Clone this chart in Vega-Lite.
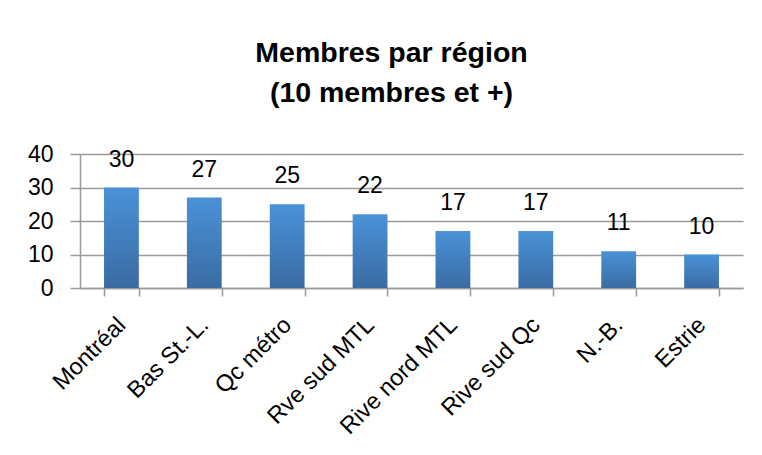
{
  "$schema": "https://vega.github.io/schema/vega-lite/v6.json",
  "width": 663,
  "height": 134,
  "autosize": "none",
  "padding": {"left": 80, "top": 154, "right": 19, "bottom": 167},
  "background": "white",
  "title": {
    "text": ["Membres par région", "(10 membres et +)"],
    "font": "Liberation Sans",
    "fontSize": 28.5,
    "fontWeight": "bold",
    "color": "#000000",
    "lineHeight": 40,
    "anchor": "middle",
    "dx": -20,
    "offset": 36
  },
  "data": {
    "values": [
      {"region": "Montréal", "membres": 30},
      {"region": "Bas St.-L.", "membres": 27},
      {"region": "Qc métro", "membres": 25},
      {"region": "Rve sud MTL", "membres": 22},
      {"region": "Rive nord MTL", "membres": 17},
      {"region": "Rive sud Qc", "membres": 17},
      {"region": "N.-B.", "membres": 11},
      {"region": "Estrie", "membres": 10}
    ]
  },
  "encoding": {
    "x": {
      "field": "region",
      "type": "nominal",
      "sort": null,
      "scale": {"paddingInner": 0.58, "paddingOuter": 0.29},
      "axis": {
        "title": null,
        "labelAngle": -45,
        "labelAlign": "right",
        "labelBaseline": "middle",
        "labelFont": "Liberation Sans",
        "labelFontSize": 23.5,
        "labelColor": "#000000",
        "labelPadding": 25,
        "tickBand": "extent",
        "tickColor": "#9a9a9a",
        "tickWidth": 1.5,
        "tickSize": 8,
        "domainColor": "#9a9a9a",
        "domainWidth": 1.5,
        "grid": false
      }
    },
    "y": {
      "field": "membres",
      "type": "quantitative",
      "scale": {"domain": [0, 40]},
      "axis": {
        "title": null,
        "values": [0, 10, 20, 30, 40],
        "labelFont": "Liberation Sans",
        "labelFontSize": 23,
        "labelColor": "#000000",
        "labelPadding": 17,
        "tickSize": 10,
        "tickColor": "#9a9a9a",
        "tickWidth": 1.5,
        "domainColor": "#9a9a9a",
        "domainWidth": 1.5,
        "gridColor": "#9a9a9a",
        "gridWidth": 1.5
      }
    }
  },
  "layer": [
    {
      "mark": {
        "type": "bar",
        "color": {
          "gradient": "linear",
          "x1": 0, "y1": 0, "x2": 0, "y2": 1,
          "stops": [
            {"offset": 0, "color": "#4a92d8"},
            {"offset": 1, "color": "#3a6ba3"}
          ]
        }
      }
    },
    {
      "mark": {
        "type": "text",
        "baseline": "alphabetic",
        "dy": -21,
        "font": "Liberation Sans",
        "fontSize": 23,
        "color": "#000000"
      },
      "encoding": {"text": {"field": "membres", "type": "quantitative"}}
    }
  ],
  "config": {
    "view": {"stroke": null}
  }
}
